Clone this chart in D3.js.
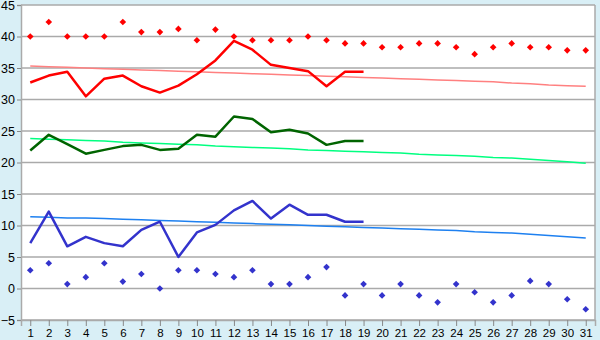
<!DOCTYPE html>
<html>
<head>
<meta charset="utf-8">
<script src="https://cdn.jsdelivr.net/npm/d3@7"></script>
<style>
  body { margin: 0; background: #d9eff6; }
  svg { display: block; font-family: "DejaVu Sans", Verdana, sans-serif; }
</style>
</head>
<body>
<div id="chart-area"></div>
<script>
// days of the month
var days = d3.range(1, 32);
var yTicks = [-5, 0, 5, 10, 15, 20, 25, 30, 35, 40, 45];

// record highs / lows (markers)
var recordHigh = [40, 42.3, 40, 40, 40, 42.3, 40.7, 40.7, 41.2, 39.4, 41.1, 40, 39.4, 39.4, 39.4, 40,
    39.4, 38.9, 38.9, 38.3, 38.3, 38.9, 38.9, 38.3, 37.2, 38.3, 38.9, 38.3, 38.3, 37.8, 37.8];
var recordLow = [2.9, 4, 0.7, 1.8, 4, 1.1, 2.3, 0, 2.9, 2.9, 2.3, 1.8, 2.9, 0.7, 0.7, 1.8,
    3.4, -1.1, 0.7, -1.1, 0.7, -1.1, -2.2, 0.7, -0.6, -2.2, -1.1, 1.2, 0.7, -1.7, -3.3];

// observed values, days 1-19
var maxTemp = [32.7, 33.8, 34.4, 30.5, 33.3, 33.8, 32.1, 31.1, 32.2, 34.0, 36.2, 39.3, 37.9, 35.5, 35.0, 34.5, 32.1, 34.4, 34.4];
var meanTemp = [21.9, 24.4, 22.9, 21.4, 22.0, 22.6, 22.8, 22.0, 22.2, 24.4, 24.1, 27.3, 26.9, 24.8, 25.2, 24.6, 22.8, 23.4, 23.4];
var minTemp = [7.2, 12.2, 6.7, 8.2, 7.2, 6.7, 9.3, 10.6, 5.0, 8.9, 10.1, 12.4, 13.9, 11.1, 13.3, 11.7, 11.7, 10.6, 10.6];

// normals
var normHigh = [35.3, 35.2, 35.1, 35.0, 34.9, 34.8, 34.7, 34.6, 34.5, 34.4, 34.3, 34.2, 34.1, 34.0, 33.9, 33.8,
    33.7, 33.6, 33.5, 33.4, 33.3, 33.2, 33.1, 33.0, 32.9, 32.8, 32.6, 32.5, 32.3, 32.2, 32.1];
var normMean = [23.8, 23.7, 23.6, 23.5, 23.4, 23.2, 23.1, 23.0, 22.9, 22.8, 22.6, 22.5, 22.4, 22.3, 22.2, 22.0,
    21.9, 21.8, 21.7, 21.6, 21.5, 21.3, 21.2, 21.1, 21.0, 20.8, 20.7, 20.5, 20.3, 20.1, 19.9];
var normLow = [11.4, 11.3, 11.2, 11.2, 11.1, 11.0, 10.9, 10.8, 10.7, 10.6, 10.5, 10.4, 10.3, 10.2, 10.1, 10.0,
    9.9, 9.8, 9.7, 9.6, 9.5, 9.4, 9.3, 9.2, 9.0, 8.9, 8.8, 8.6, 8.4, 8.2, 8.0];

var width = 600, height = 340;
var plot = {left: 21, right: 595, top: 5, bottom: 320};

var svg = d3.select("#chart-area")
    .append("svg")
        .attr("width", width)
        .attr("height", height);

var x = d3.scalePoint()
    .domain(days)
    .range([plot.left, plot.right])
    .padding(0.5);

var y = d3.scaleLinear()
    .domain([-5, 45])
    .range([plot.bottom, plot.top]);

// plot background
svg.append("rect")
    .attr("x", plot.left).attr("y", plot.top)
    .attr("width", plot.right - plot.left).attr("height", plot.bottom - plot.top)
    .attr("fill", "#fff");

// gridlines
svg.append("g")
    .selectAll("line")
    .data(yTicks)
    .enter().append("line")
        .attr("x1", plot.left).attr("x2", plot.right)
        .attr("y1", (d) => y(d))
        .attr("y2", (d) => y(d))
        .attr("stroke", "#aaa")
        .attr("stroke-width", 1.5);

svg.append("line")
    .attr("x1", plot.right).attr("x2", plot.right)
    .attr("y1", plot.top).attr("y2", plot.bottom)
    .attr("stroke", "#aaa").attr("stroke-width", 1.5);

// axes
var leftAxis = d3.axisLeft(y).tickValues(yTicks).tickSize(4).tickPadding(2);
var gy = svg.append("g")
    .attr("transform", "translate(" + plot.left + ",0)")
    .call(leftAxis);

var bottomAxis = d3.axisBottom(x).tickSize(6).tickPadding(3);
var gx = svg.append("g")
    .attr("transform", "translate(0," + plot.bottom + ")")
    .call(bottomAxis);

[gy, gx].forEach((g) => {
    g.select(".domain").attr("stroke", "#aaa").attr("stroke-width", 1.5);
    g.selectAll(".tick line").attr("stroke", "#888");
    g.selectAll("text").attr("font-size", "11.5px").attr("fill", "#000");
});
gy.selectAll("text").attr("font-size", "12.5px");

// trend / normal lines
var line = d3.line()
    .x((d, i) => x(days[i]))
    .y((d) => y(d));

var normals = [
    {values: normHigh, color: "#ff8080"},
    {values: normMean, color: "#00ff80"},
    {values: normLow, color: "#1e80f0"}
];
normals.forEach((s) => {
    svg.append("path")
        .attr("d", line(s.values))
        .attr("fill", "none")
        .attr("stroke", s.color)
        .attr("stroke-width", 1.5);
});

// observed lines
var observed = [
    {values: maxTemp, color: "#ff0000"},
    {values: meanTemp, color: "#006400"},
    {values: minTemp, color: "#3333cc"}
];
observed.forEach((s) => {
    svg.append("path")
        .attr("d", line(s.values))
        .attr("fill", "none")
        .attr("stroke", s.color)
        .attr("stroke-width", 2.5)
        .attr("stroke-linejoin", "round");
});

// record markers
var marker = d3.symbol().type(d3.symbolSquare).size(22);
var records = [
    {values: recordHigh, color: "#ff0000"},
    {values: recordLow, color: "#3333cc"}
];
records.forEach((s) => {
    svg.append("g")
        .selectAll("path")
        .data(s.values)
        .enter().append("path")
            .attr("d", marker)
            .attr("transform", (d, i) => "translate(" + x(days[i]) + "," + y(d) + ") rotate(45)")
            .attr("fill", s.color);
});
</script>
</body>
</html>
